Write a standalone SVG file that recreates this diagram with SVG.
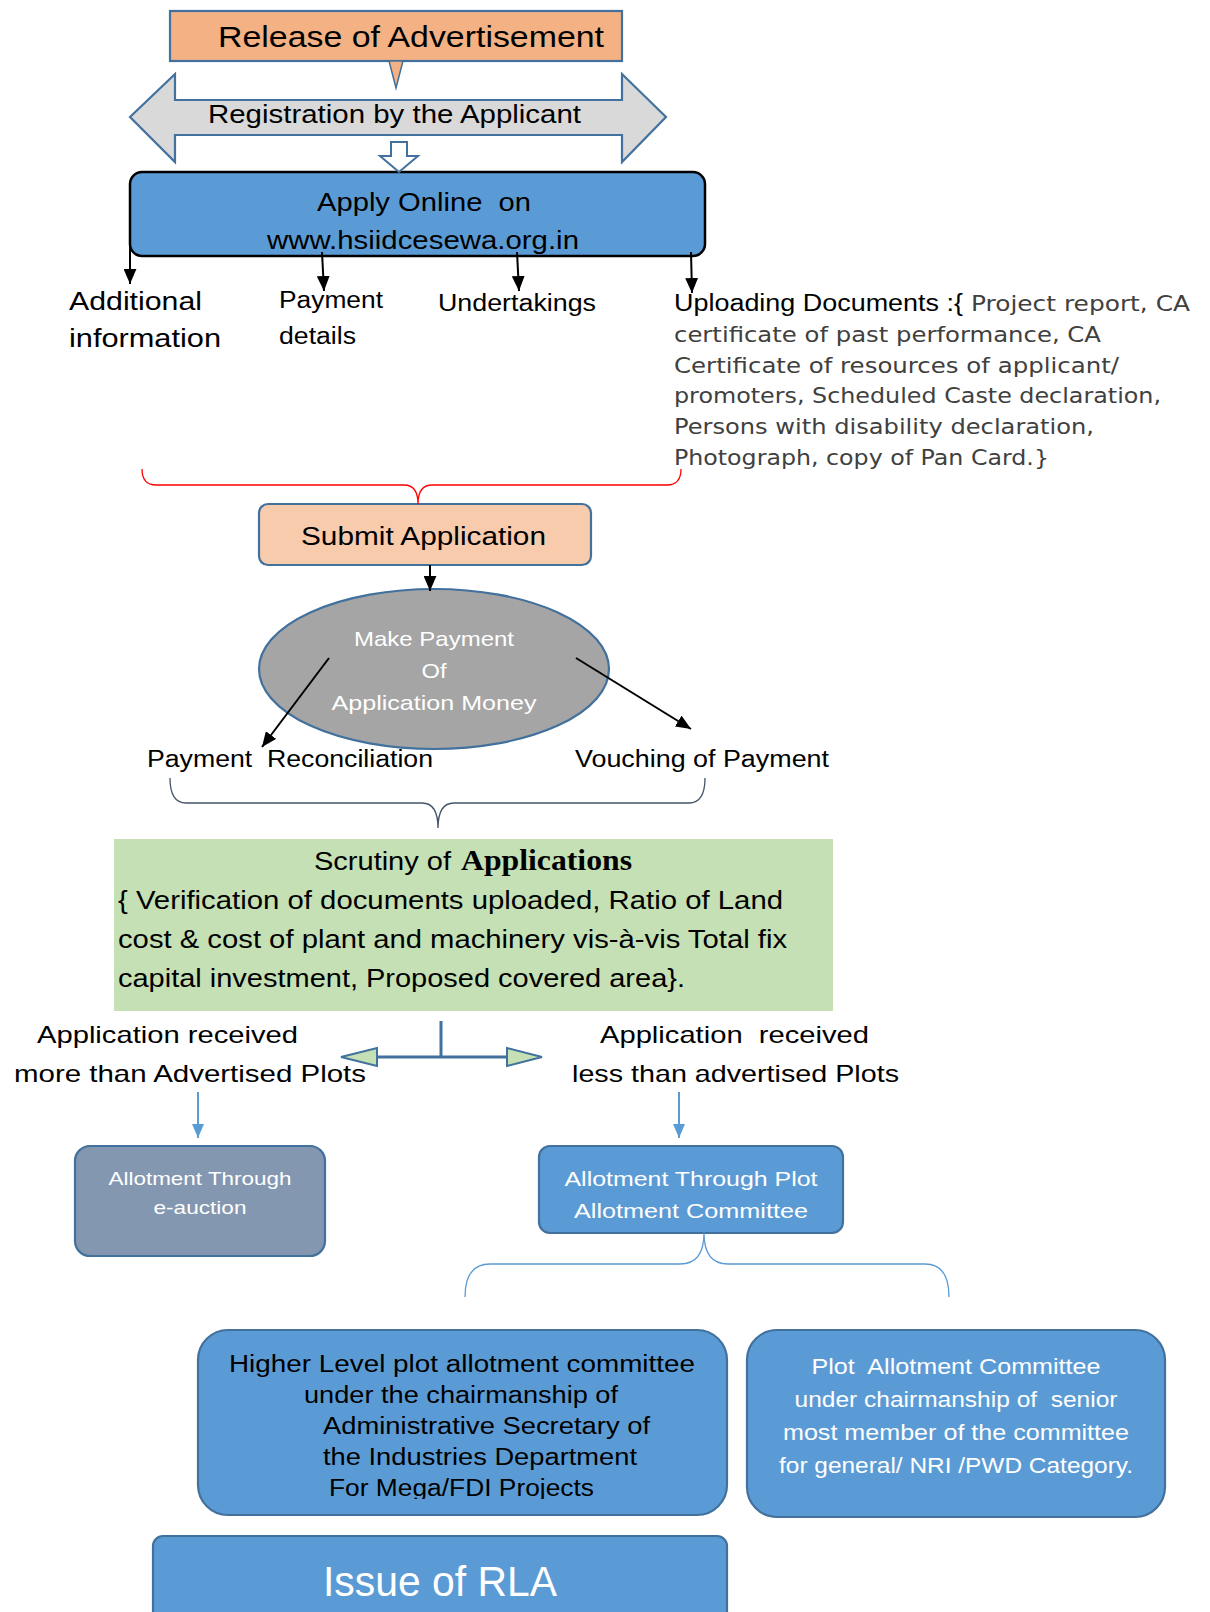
<svg xmlns="http://www.w3.org/2000/svg" width="1210" height="1612" viewBox="0 0 1210 1612" xml:space="preserve">
<style>
text{font-family:"Liberation Sans",Arial,sans-serif;white-space:pre;}
.blk{fill:#000;}
.wht{fill:#fff;}
.gry{fill:#404040;font-family:"DejaVu Sans",Verdana,sans-serif;}
.bx{stroke:#41719C;stroke-width:2.2;}
.blue{fill:#5B9BD5;}
.conn{fill:none;stroke:#000;stroke-width:2;}
.bconn{fill:none;stroke:#5B9BD5;stroke-width:2;}
</style>
<defs>
<marker id="ah" viewBox="0 0 14 12" refX="14" refY="6" markerWidth="15" markerHeight="13" markerUnits="userSpaceOnUse" orient="auto"><path d="M0,0 L14,6 L0,12 Z" fill="#000"/></marker>
<marker id="bh" viewBox="0 0 14 12" refX="14" refY="6" markerWidth="14" markerHeight="12" markerUnits="userSpaceOnUse" orient="auto"><path d="M0,0 L14,6 L0,12 Z" fill="#5B9BD5"/></marker>
<clipPath id="hlclip"><rect x="198" y="1330" width="530" height="169"/></clipPath>
</defs>
<rect width="1210" height="1612" fill="#fff"/>

<g id="release">
<rect x="170" y="11" width="452" height="50" fill="#F4B183" class="bx"/>
<text x="218" y="47" font-size="30" textLength="386" lengthAdjust="spacingAndGlyphs">Release of Advertisement</text>
</g>

<g id="registration">
<path d="M130,117 L175,74 L175,100 L622,100 L622,74 L666,117 L622,162 L622,135 L175,135 L175,162 Z" fill="#D9D9D9" class="bx"/>
<text x="208" y="123" font-size="25" textLength="373" lengthAdjust="spacingAndGlyphs">Registration by the Applicant</text>
</g>

<g id="apply">
<rect x="130" y="172" width="575" height="84" rx="12" fill="#5B9BD5" stroke="#000" stroke-width="2.5"/>
<text x="317" y="211" font-size="26" textLength="214" lengthAdjust="spacingAndGlyphs">Apply Online  on</text>
<text x="267" y="249" font-size="26" textLength="312" lengthAdjust="spacingAndGlyphs">www.hsiidcesewa.org.in</text>
</g>

<g id="additional">
<text x="69" y="310" font-size="25" textLength="133" lengthAdjust="spacingAndGlyphs">Additional</text>
<text x="69" y="347" font-size="25" textLength="152" lengthAdjust="spacingAndGlyphs">information</text>
</g>
<g id="payment-details">
<text x="279" y="308" font-size="23" textLength="104" lengthAdjust="spacingAndGlyphs">Payment</text>
<text x="279" y="344" font-size="23" textLength="77" lengthAdjust="spacingAndGlyphs">details</text>
</g>
<g id="undertakings">
<text x="438" y="311" font-size="23" textLength="158" lengthAdjust="spacingAndGlyphs">Undertakings</text>
</g>
<g id="uploading">
<text x="674" y="311" font-size="23" textLength="289" lengthAdjust="spacingAndGlyphs">Uploading Documents :{</text>
<text x="971" y="311" font-size="21" class="gry" textLength="219" lengthAdjust="spacingAndGlyphs">Project report, CA</text>
<text x="674" y="342" font-size="21" class="gry" textLength="427" lengthAdjust="spacingAndGlyphs">certificate of past performance, CA</text>
<text x="674" y="373" font-size="21" class="gry" textLength="445" lengthAdjust="spacingAndGlyphs">Certificate of resources of applicant/</text>
<text x="674" y="403" font-size="21" class="gry" textLength="487" lengthAdjust="spacingAndGlyphs">promoters, Scheduled Caste declaration,</text>
<text x="674" y="434" font-size="21" class="gry" textLength="420" lengthAdjust="spacingAndGlyphs">Persons with disability declaration,</text>
<text x="674" y="465" font-size="21" class="gry" textLength="375" lengthAdjust="spacingAndGlyphs">Photograph, copy of Pan Card.}</text>
</g>

<g id="submit">
<rect x="259" y="504" width="332" height="61" rx="9" fill="#F8CBAD" class="bx"/>
<text x="301" y="545" font-size="26" textLength="245" lengthAdjust="spacingAndGlyphs">Submit Application</text>
</g>

<g id="make-payment">
<ellipse cx="434" cy="669" rx="175" ry="80" fill="#A5A5A5" class="bx"/>
<text x="434" y="646" font-size="21" class="wht" text-anchor="middle" textLength="160" lengthAdjust="spacingAndGlyphs">Make Payment</text>
<text x="434" y="678" font-size="21" class="wht" text-anchor="middle" textLength="25" lengthAdjust="spacingAndGlyphs">Of</text>
<text x="434" y="710" font-size="21" class="wht" text-anchor="middle" textLength="205" lengthAdjust="spacingAndGlyphs">Application Money</text>
</g>

<g id="reconciliation">
<text x="147" y="767" font-size="23" textLength="286" lengthAdjust="spacingAndGlyphs">Payment  Reconciliation</text>
</g>
<g id="vouching">
<text x="575" y="767" font-size="23" textLength="254" lengthAdjust="spacingAndGlyphs">Vouching of Payment</text>
</g>

<g id="scrutiny">
<rect x="114" y="839" width="719" height="172" fill="#C5E0B4"/>
<text x="314" y="870" font-size="25" textLength="137" lengthAdjust="spacingAndGlyphs">Scrutiny of</text>
<text x="461" y="870" font-size="29" font-weight="bold" style="font-family:'Liberation Serif','Times New Roman',serif" textLength="171" lengthAdjust="spacingAndGlyphs">Applications</text>
<text x="118" y="909" font-size="25" textLength="665" lengthAdjust="spacingAndGlyphs">{ Verification of documents uploaded, Ratio of Land</text>
<text x="118" y="948" font-size="25" textLength="669" lengthAdjust="spacingAndGlyphs">cost &amp; cost of plant and machinery vis-à-vis Total fix</text>
<text x="118" y="987" font-size="25" textLength="567" lengthAdjust="spacingAndGlyphs">capital investment, Proposed covered area}.</text>
</g>

<g id="more-than">
<text x="37" y="1043" font-size="24" textLength="261" lengthAdjust="spacingAndGlyphs">Application received</text>
<text x="14" y="1082" font-size="24" textLength="352" lengthAdjust="spacingAndGlyphs">more than Advertised Plots</text>
</g>
<g id="less-than">
<text x="600" y="1043" font-size="24" textLength="269" lengthAdjust="spacingAndGlyphs">Application  received</text>
<text x="572" y="1082" font-size="24" textLength="327" lengthAdjust="spacingAndGlyphs">less than advertised Plots</text>
</g>

<g id="eauction">
<rect x="75" y="1146" width="250" height="110" rx="15" fill="#8497B0" class="bx"/>
<text x="200" y="1185" font-size="19" class="wht" text-anchor="middle" textLength="183" lengthAdjust="spacingAndGlyphs">Allotment Through</text>
<text x="200" y="1214" font-size="19" class="wht" text-anchor="middle" textLength="93" lengthAdjust="spacingAndGlyphs">e-auction</text>
</g>

<g id="plot-committee">
<rect x="539" y="1146" width="304" height="87" rx="11" class="blue bx"/>
<text x="691" y="1186" font-size="21" class="wht" text-anchor="middle" textLength="253" lengthAdjust="spacingAndGlyphs">Allotment Through Plot</text>
<text x="691" y="1218" font-size="21" class="wht" text-anchor="middle" textLength="234" lengthAdjust="spacingAndGlyphs">Allotment Committee</text>
</g>

<g id="higher-level">
<rect x="198" y="1330" width="529" height="185" rx="30" class="blue bx"/>
<g clip-path="url(#hlclip)">
<text x="229" y="1372" font-size="23" textLength="466" lengthAdjust="spacingAndGlyphs">Higher Level plot allotment committee</text>
<text x="304" y="1403" font-size="23" textLength="314" lengthAdjust="spacingAndGlyphs">under the chairmanship of</text>
<text x="323" y="1434" font-size="23" textLength="327" lengthAdjust="spacingAndGlyphs">Administrative Secretary of</text>
<text x="323" y="1465" font-size="23" textLength="314" lengthAdjust="spacingAndGlyphs">the Industries Department</text>
<text x="329" y="1496" font-size="23" textLength="265" lengthAdjust="spacingAndGlyphs">For Mega/FDI Projects</text>
</g>
</g>

<g id="plot-allotment">
<rect x="747" y="1330" width="418" height="187" rx="30" class="blue bx"/>
<text x="956" y="1374" font-size="22" class="wht" text-anchor="middle" textLength="289" lengthAdjust="spacingAndGlyphs">Plot  Allotment Committee</text>
<text x="956" y="1407" font-size="22" class="wht" text-anchor="middle" textLength="323" lengthAdjust="spacingAndGlyphs">under chairmanship of  senior</text>
<text x="956" y="1440" font-size="22" class="wht" text-anchor="middle" textLength="346" lengthAdjust="spacingAndGlyphs">most member of the committee</text>
<text x="956" y="1473" font-size="22" class="wht" text-anchor="middle" textLength="354" lengthAdjust="spacingAndGlyphs">for general/ NRI /PWD Category.</text>
</g>

<g id="rla">
<rect x="153" y="1536" width="574" height="90" rx="10" class="blue bx"/>
<text x="323" y="1596" font-size="43" class="wht" textLength="234" lengthAdjust="spacingAndGlyphs">Issue of RLA</text>
</g>

<g id="connectors">
<path d="M389,61 L403,61 L396,88 Z" fill="#F4B183" stroke="#41719C" stroke-width="1.5"/>
<path d="M391,142 L407,142 L407,156 L418,156 L399,172 L380,156 L391,156 Z" fill="#fff" stroke="#41719C" stroke-width="2"/>
<line x1="130" y1="247" x2="130" y2="284" class="conn" marker-end="url(#ah)"/>
<line x1="322" y1="252" x2="324" y2="291" class="conn" marker-end="url(#ah)"/>
<line x1="517" y1="252" x2="519" y2="291" class="conn" marker-end="url(#ah)"/>
<line x1="691" y1="252" x2="692" y2="293" class="conn" marker-end="url(#ah)"/>
<path d="M142,469 Q142,485 156,485 L404,485 Q418,485 418,504 Q418,485 432,485 L667,485 Q681,485 681,469" fill="none" stroke="#FF0000" stroke-width="1.3"/>
<line x1="430" y1="565" x2="430" y2="591" class="conn" marker-end="url(#ah)"/>
<line x1="329" y1="658" x2="262" y2="747" class="conn" marker-end="url(#ah)"/>
<line x1="576" y1="658" x2="691" y2="729" class="conn" marker-end="url(#ah)"/>
<path d="M170,778 Q170,803 186,803 L422,803 Q438,803 438,828 Q438,803 454,803 L689,803 Q705,803 705,778" fill="none" stroke="#44546A" stroke-width="1.3"/>
<line x1="441" y1="1021" x2="441" y2="1057" stroke="#41719C" stroke-width="3"/>
<line x1="377" y1="1057" x2="507" y2="1057" stroke="#41719C" stroke-width="3"/>
<path d="M341,1057 L377,1048 L377,1066 Z" fill="#C5E0B4" stroke="#41719C" stroke-width="2"/>
<path d="M542,1057 L507,1048 L507,1066 Z" fill="#C5E0B4" stroke="#41719C" stroke-width="2"/>
<line x1="198" y1="1092" x2="198" y2="1138" class="bconn" marker-end="url(#bh)"/>
<line x1="679" y1="1092" x2="679" y2="1138" class="bconn" marker-end="url(#bh)"/>
<path d="M704,1233 Q704,1264 680,1264 L490,1264 Q465,1264 465,1297 M704,1233 Q704,1264 728,1264 L925,1264 Q949,1264 949,1297" fill="none" stroke="#5B9BD5" stroke-width="1.3"/>
</g>
</svg>
